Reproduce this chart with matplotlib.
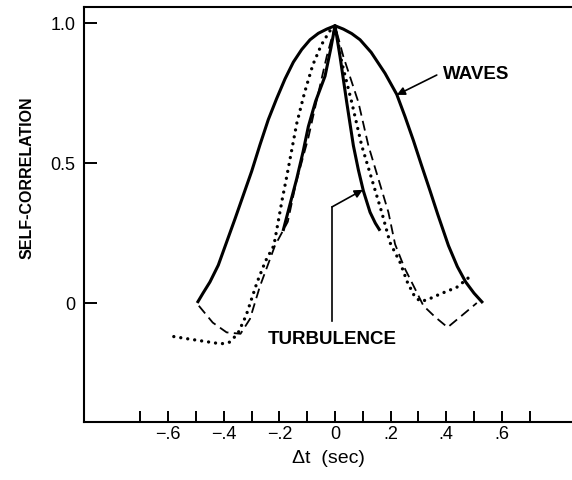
import matplotlib
matplotlib.use('Agg')
import matplotlib.pyplot as plt
from matplotlib.ticker import FixedLocator, FixedFormatter

#===============================================================
# Self-correlation vs time lag: waves and turbulence curves
#===============================================================

#DATA-----------------------------------------------------------
# waves (thick solid, broad)
waves_t = [-0.496, -0.475, -0.45, -0.42, -0.40, -0.36, -0.33, -0.30, -0.27, -0.24,
           -0.21, -0.18, -0.15, -0.12, -0.09, -0.06, -0.03, 0.0,
           0.03, 0.06, 0.09, 0.13, 0.18, 0.222, 0.252, 0.282, 0.31, 0.342,
           0.37, 0.408, 0.44, 0.47, 0.50, 0.532]
waves_r = [0.0, 0.035, 0.075, 0.135, 0.19, 0.30, 0.385, 0.47, 0.565, 0.655,
           0.73, 0.80, 0.86, 0.905, 0.94, 0.963, 0.978, 0.99,
           0.978, 0.962, 0.94, 0.895, 0.82, 0.745, 0.665, 0.58, 0.495, 0.40,
           0.315, 0.205, 0.13, 0.075, 0.035, 0.0]

# turbulence (thick solid, narrow)
turb_t = [-0.187, -0.16, -0.138, -0.115, -0.096, -0.07, -0.036, -0.015, 0.0,
          0.018, 0.042, 0.066, 0.084, 0.102, 0.126, 0.145, 0.162]
turb_r = [0.257, 0.36, 0.443, 0.54, 0.63, 0.72, 0.81, 0.91, 0.99,
          0.88, 0.717, 0.562, 0.475, 0.40, 0.324, 0.285, 0.258]

# dashed record
dash_t = [-0.49, -0.44, -0.39, -0.34, -0.306, -0.27, -0.216, -0.17, -0.14, -0.096,
          -0.06, -0.03, 0.0, 0.03, 0.084, 0.12, 0.156, 0.192, 0.216,
          0.25, 0.282, 0.318, 0.36, 0.405, 0.45, 0.51]
dash_r = [-0.01, -0.07, -0.105, -0.11, -0.057, 0.06, 0.205, 0.29, 0.43, 0.59,
          0.75, 0.88, 0.99, 0.88, 0.717, 0.562, 0.443, 0.324, 0.21,
          0.125, 0.062, -0.01, -0.05, -0.087, -0.05, 0.0]

# dotted record
dot_t = [-0.58, -0.53, -0.49, -0.45, -0.41, -0.38, -0.35, -0.32, -0.28, -0.25,
         -0.22, -0.19, -0.174, -0.138, -0.11, -0.08, -0.05, -0.02, 0.0,
         0.024, 0.06, 0.096, 0.132, 0.168, 0.198, 0.234, 0.26, 0.288, 0.31,
         0.34, 0.378, 0.438, 0.49]
dot_r = [-0.12, -0.128, -0.134, -0.14, -0.146, -0.14, -0.11, -0.045, 0.075, 0.15,
         0.205, 0.37, 0.45, 0.64, 0.75, 0.85, 0.92, 0.97, 0.99,
         0.86, 0.717, 0.562, 0.443, 0.324, 0.215, 0.145, 0.075, 0.02, 0.005,
         0.015, 0.032, 0.056, 0.098]

x_major = [-0.6, -0.4, -0.2, 0.0, 0.2, 0.4, 0.6]
x_major_labels = ['\u2212.6', '\u2212.4', '\u2212.2', '0', '.2', '.4', '.6']
x_minor = [-0.7, -0.5, -0.3, -0.1, 0.1, 0.3, 0.5, 0.7]
y_ticks = [0.0, 0.5, 1.0]
y_tick_labels = ['0', '0.5', '1.0']

#PLOTTING--------------------------------------------------------
plt.rcParams['font.family'] = ['Liberation Sans', 'DejaVu Sans']

fig = plt.figure(figsize=(5.72, 4.81), dpi=100)
ax = fig.add_axes([0.1469, 0.1206, 0.8531, 0.8628])

ax.plot(waves_t, waves_r, color='k', lw=2.2, solid_capstyle='butt')
ax.plot(turb_t, turb_r, color='k', lw=2.2, solid_capstyle='butt')
ax.plot(dash_t, dash_r, color='k', lw=1.3, linestyle=(0, (5.5, 3)))
ax.plot(dot_t, dot_r, color='k', lw=2.4, linestyle=(0, (0.01, 2.1)),
        dash_capstyle='round')

ax.set_xlim(-0.903, 0.8525)
ax.set_ylim(-0.425, 1.057)

for side in ['left', 'top', 'bottom']:
    ax.spines[side].set_linewidth(1.5)
ax.spines['right'].set_visible(False)

ax.xaxis.set_major_locator(FixedLocator(x_major))
ax.xaxis.set_major_formatter(FixedFormatter(x_major_labels))
ax.xaxis.set_minor_locator(FixedLocator(x_minor))
ax.yaxis.set_major_locator(FixedLocator(y_ticks))
ax.yaxis.set_major_formatter(FixedFormatter(y_tick_labels))

ax.tick_params(axis='x', which='both', direction='in', length=8, width=1.4,
               pad=2, labelsize=13)
ax.tick_params(axis='y', which='major', direction='in', length=9, width=1.4,
               pad=6, labelsize=13)
ax.tick_params(axis='y', which='minor', left=False)

ax.set_xlabel('\u0394t  (sec)', fontsize=14, labelpad=5)
ax.set_ylabel('SELF-CORRELATION', fontsize=11.5, fontweight='bold')
ax.yaxis.set_label_coords(-0.102, 0.59)

#ANNOTATIONS-----------------------------------------------------
arrow = dict(arrowstyle='-|>', color='k', lw=1.2, mutation_scale=12,
             shrinkA=0, shrinkB=0)

ax.annotate('', xy=(0.222, 0.743), xytext=(0.366, 0.814), arrowprops=arrow)
ax.text(0.388, 0.818, 'WAVES', fontsize=13.5, fontweight='bold',
        va='center', ha='left')

ax.plot([-0.011, -0.011], [-0.064, 0.343], color='k', lw=1.2)
ax.annotate('', xy=(0.10, 0.404), xytext=(-0.011, 0.343), arrowprops=arrow)
ax.text(-0.241, -0.127, 'TURBULENCE', fontsize=13.5, fontweight='bold',
        va='center', ha='left')

fig.savefig('out.png', dpi=100)
